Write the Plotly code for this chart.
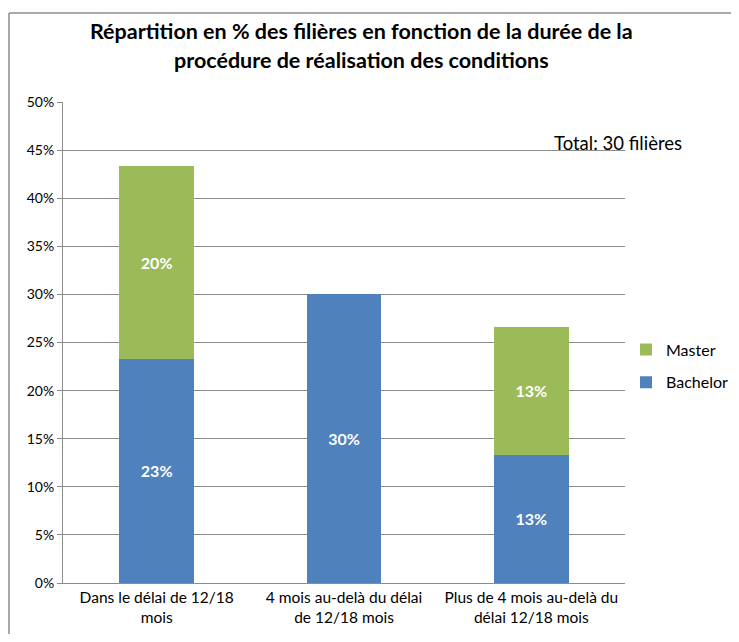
import plotly.graph_objects as go

categories = [
    "Dans le délai de 12/18<br>mois",
    "4 mois au-delà du délai<br>de 12/18 mois",
    "Plus de 4 mois au-delà du<br>délai 12/18 mois",
]
bachelor = [23.33, 30.0, 13.33]
master = [20.0, 0.0, 13.33]
bachelor_labels = ["23%", "30%", "13%"]
master_labels = ["20%", "", "13%"]
y_ticks = [0, 5, 10, 15, 20, 25, 30, 35, 40, 45, 50]
y_tick_labels = [f"{v}%" for v in y_ticks]

FONT = "Lato, Carlito, Calibri, sans-serif"
OFF = 8  # page body margin
W, H = 739 - OFF, 642 - 2 * OFF
# target positions in window pixels
L, R, T, B = 63, 625, 102, 583

fig = go.Figure()
fig.add_trace(go.Bar(
    name="Bachelor", x=categories, y=bachelor, marker_color="#4F81BD",
    text=bachelor_labels, textposition="inside", insidetextanchor="middle",
    textfont=dict(color="white", size=16, family=FONT, weight="bold"),
    legendgroup="b", legendrank=2, marker_line_width=0,
))
fig.add_trace(go.Bar(
    name="Master", x=categories, y=master, marker_color="#9BBB59",
    text=master_labels, textposition="inside", insidetextanchor="middle",
    textfont=dict(color="white", size=16, family=FONT, weight="bold"),
    legendgroup="m", legendrank=1, marker_line_width=0,
))

pw = R - L
ph = B - T
def px(x):
    return (x - L) / pw
def py(y):
    return (B - y) / ph

fig.update_layout(
    width=W, height=H,
    margin=dict(l=L - OFF, r=(W + OFF) - R, t=T - OFF, b=(H + OFF) - B, autoexpand=False),
    barmode="stack", bargap=0.6,
    plot_bgcolor="white", paper_bgcolor="white",
    font=dict(family=FONT, size=14, color="#000000"),
    showlegend=True,
    legend=dict(
        x=px(626), xanchor="left", y=py(366), yanchor="middle",
        traceorder="grouped", tracegroupgap=9,
        font=dict(size=16, family=FONT), bgcolor="rgba(0,0,0,0)",
        itemwidth=30,
    ),
    annotations=[
        dict(
            text="Répartition en % des filières en fonction de la durée de la",
            xref="paper", yref="paper", x=px(361), y=py(31),
            xanchor="center", yanchor="middle", showarrow=False,
            font=dict(size=21.5, family=FONT, weight="bold"),
        ),
        dict(
            text="procédure de réalisation des conditions",
            xref="paper", yref="paper", x=px(361), y=py(60),
            xanchor="center", yanchor="middle", showarrow=False,
            font=dict(size=21.5, family=FONT, weight="bold"),
        ),
        dict(
            text="Total: 30 filières", xref="paper", yref="paper",
            x=px(552), y=py(143), xanchor="left", yanchor="middle",
            showarrow=False, font=dict(size=18.5, family=FONT),
        ),
    ],
    shapes=[
        dict(type="line", xref="paper", yref="paper",
             x0=px(9), x1=px(9), y0=py(660), y1=py(13),
             line=dict(color="#8c8c8c", width=1.5)),
        dict(type="line", xref="paper", yref="paper",
             x0=px(9), x1=px(760), y0=py(13), y1=py(13),
             line=dict(color="#8c8c8c", width=1.5)),
    ],
)
fig.update_yaxes(
    range=[0, 50], tickvals=y_ticks, ticktext=y_tick_labels,
    showgrid=True, gridcolor="#8c8c8c", gridwidth=1,
    showline=True, linecolor="#8c8c8c", linewidth=1,
    ticks="outside", ticklen=5, tickcolor="#8c8c8c",
    tickfont=dict(size=14, family=FONT), zeroline=False,
)
fig.update_xaxes(
    showline=True, linecolor="#8c8c8c", linewidth=1,
    ticks="", tickfont=dict(size=15.5, family=FONT), showgrid=False,
)

fig.write_html("out.html")
